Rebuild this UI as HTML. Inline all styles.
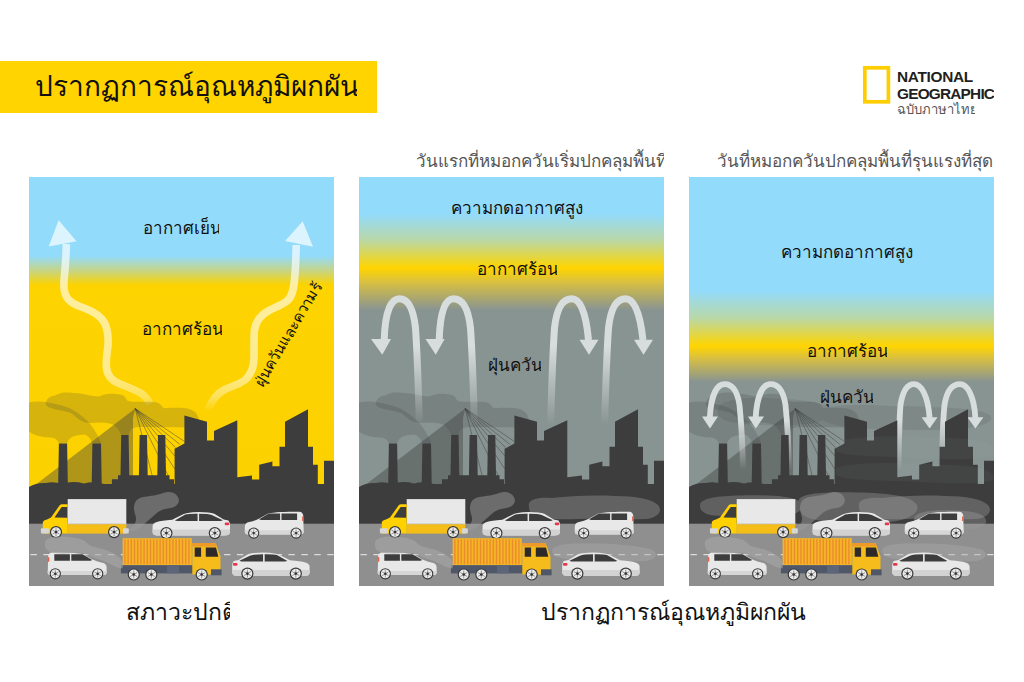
<!DOCTYPE html>
<html><head><meta charset="utf-8">
<style>
html,body{margin:0;padding:0;background:#fff;}
body{width:1024px;height:682px;position:relative;overflow:hidden;font-family:"Liberation Sans",sans-serif;}
svg{position:absolute;left:0;top:0;}
.t{position:absolute;white-space:nowrap;line-height:1;overflow:hidden;}
</style></head><body>
<svg width="1024" height="682" viewBox="0 0 1024 682">
<defs>
<linearGradient id="g1" x1="0" y1="177" x2="0" y2="586" gradientUnits="userSpaceOnUse"><stop offset="0.0000" stop-color="#93dbfb"/><stop offset="0.1932" stop-color="#93dbfb"/><stop offset="0.2274" stop-color="#c4d58a"/><stop offset="0.2641" stop-color="#fdd300"/><stop offset="1.0000" stop-color="#fcd000"/></linearGradient>
<linearGradient id="g2" x1="0" y1="177" x2="0" y2="586" gradientUnits="userSpaceOnUse"><stop offset="0.0000" stop-color="#93dbfb"/><stop offset="0.0905" stop-color="#93dbfb"/><stop offset="0.1540" stop-color="#b9d8a8"/><stop offset="0.2225" stop-color="#ffd500"/><stop offset="0.2567" stop-color="#d9c040"/><stop offset="0.3252" stop-color="#889492"/><stop offset="1.0000" stop-color="#889492"/></linearGradient>
<linearGradient id="g3" x1="0" y1="177" x2="0" y2="586" gradientUnits="userSpaceOnUse"><stop offset="0.0000" stop-color="#93dbfb"/><stop offset="0.2787" stop-color="#93dbfb"/><stop offset="0.3447" stop-color="#b9d8a8"/><stop offset="0.4132" stop-color="#ffd500"/><stop offset="0.4425" stop-color="#d9c040"/><stop offset="0.5012" stop-color="#889492"/><stop offset="1.0000" stop-color="#889492"/></linearGradient>
<clipPath id="c1"><rect x="29" y="177" width="305" height="409"/></clipPath>
<clipPath id="c2"><rect x="359" y="177" width="305" height="409"/></clipPath>
<clipPath id="c3"><rect x="689" y="177" width="305" height="409"/></clipPath>
<g id="wh"><circle r="6.1" fill="#383838"/><circle r="4.9" fill="#ececec"/>
<path d="M0,-4 V4 M-3.5,-2 L3.5,2 M-3.5,2 L3.5,-2" stroke="#7a7a7a" stroke-width="0.8"/><circle r="1.3" fill="#333"/></g>
<g id="sedan">
<path d="M0.3,14 C0.4,10.5 5,9 20,7.8 C25,5 30,2.3 34,1.2 Q40,0 47,0 Q57,0 62,1.8 L71.4,7.6 L76.2,8.6 L77.7,11.5 L77.7,20 Q77.5,23.5 72,23.5 L4,23.5 Q0.3,23 0.3,20 Z" fill="#e8e8e8"/>
<path d="M0.3,17.5 L77.7,17.5 L77.7,20 Q77.5,23.5 72,23.5 L4,23.5 Q0.3,23 0.3,20 Z" fill="#d2d2d2"/>
<path d="M22.5,8.4 L33,2.4 Q36,1.7 45.4,1.8 L45.4,9 L25,9 Z M46.8,1.8 Q56,1.8 60,3.2 L70.5,8.3 L68.5,9 L46.8,9 Z" fill="#3d3d3d"/>
<path d="M46,1.8 V9" stroke="#e8e8e8" stroke-width="0.9"/>
<rect x="72.4" y="10.6" width="4.6" height="2.6" rx="1.2" fill="#e3394a"/>
<use href="#wh" x="14.1" y="21.1"/><use href="#wh" x="62.5" y="21.1"/>
</g>
<g id="hatch">
<path d="M0.3,14.5 C0.4,11.8 2,10.6 4.6,10.1 C8,9.4 11,8.4 13.8,7.1 L23.8,1.5 C30,0 40,-0.3 55,-0.3 C57,0 58.2,1 58.7,3 L59.2,20 Q59,22.4 56,22.4 L3,22.4 Q0.3,22.2 0.3,20 Z" fill="#e8e8e8"/>
<path d="M0.3,18.2 L59.2,18.2 L59.2,20 Q59,22.4 56,22.4 L3,22.4 Q0.3,22.2 0.3,20 Z" fill="#d6d6d6"/>
<path d="M37,1.6 H52.6 V8 H37 Z M35.6,1.6 L24.4,1.6 L14.6,7.3 L16.5,8 L35.6,8 Z" fill="#3d3d3d"/>
<rect x="57.6" y="4.5" width="1.4" height="4.5" fill="#e0604a"/>
<use href="#wh" transform="translate(9.2,21.1) scale(0.92)"/><use href="#wh" transform="translate(51.6,21.1) scale(0.92)"/>
</g>
<g id="truck"><g transform="translate(35,495)">
<rect x="32.7" y="4.1" width="58.6" height="25.2" fill="#e8e8e8"/>
<rect x="32.7" y="28.3" width="58.6" height="1.2" fill="#cfcfcf"/>
<rect x="32.7" y="29.3" width="58.6" height="9.3" fill="#f5bd18"/>
<path d="M7.8,30 L7.8,27.5 Q8,25.5 12,24.5 L16,22.6 L24.5,10.5 Q25.5,9.3 27,9.3 L32.7,9.3 L32.7,38.6 L7.8,38.6 Z" fill="#ffd100"/>
<path d="M19.5,22.5 L26.6,12 L32.2,12 L32.2,22.8 Z" fill="#3d3d3d"/>
<rect x="5.9" y="33.2" width="8" height="5.4" rx="1" fill="#d6d6d6"/>
<rect x="87.9" y="33.2" width="5.9" height="5.4" rx="1" fill="#d6d6d6"/>
<use href="#wh" x="21" y="37.1"/><use href="#wh" x="79.1" y="37.1"/>
</g></g>
<g id="ctruck"><g transform="translate(115,530)">
<rect x="7.6" y="8.2" width="69.2" height="27" fill="#f6b526"/>
<path d="M9.9,9.3 V34.2 M13.1,9.3 V34.2 M16.3,9.3 V34.2 M19.5,9.3 V34.2 M22.7,9.3 V34.2 M25.9,9.3 V34.2 M29.1,9.3 V34.2 M32.3,9.3 V34.2 M35.5,9.3 V34.2 M38.7,9.3 V34.2 M41.9,9.3 V34.2 M45.1,9.3 V34.2 M48.3,9.3 V34.2 M51.5,9.3 V34.2 M54.7,9.3 V34.2 M57.9,9.3 V34.2 M61.1,9.3 V34.2 M64.3,9.3 V34.2 M67.5,9.3 V34.2 M70.7,9.3 V34.2 M73.9,9.3 V34.2" stroke="#ea8c2e" stroke-width="1.4"/>
<rect x="5.9" y="35.2" width="90" height="8.2" fill="#4f5769"/>
<rect x="52" y="35.2" width="12" height="8.2" fill="#5d6678"/>
<path d="M77.3,16.4 L77.3,13.1 L100.6,13.1 L105.5,26.5 L105.5,44.5 L77.3,44.5 Z" fill="#f5bc1b"/>
<path d="M77.3,13.1 L100.6,13.1 L101.8,16.4 L77.3,16.4 Z" fill="#ee9a2a"/>
<path d="M79.7,17.6 H86.1 V26.7 H79.7 Z M90.8,17.6 H101 L103.3,26.7 H90.8 Z" fill="#2e2a2a"/>
<rect x="96" y="39.3" width="10.6" height="6" fill="#4f5769"/>
<use href="#wh" x="18.75" y="44.5"/><use href="#wh" x="36.3" y="44.5"/><use href="#wh" x="86.7" y="44.5"/>
</g></g>
<g id="sceneA">
<g opacity="0.2" fill="#3d3d3d">
<path d="M45.7,404 C46,398 51,396 55.4,395.5 C61,392 67,392.5 72.9,392.9 C80,393 84,394 87,394.7 C92,396 96,396.5 99.3,396.4 C104,394.5 108,393.5 111.6,393.8 C117,394 122,394.5 124,396 C126,398 126.5,400 127.4,400.8 C131,402 134,401.7 138,401.7 L152,401.7 C156,402 159.5,403 161,405 C162,407 163,408 165,408.3 C169,408 176,407.8 183.7,407.9 C189,408 193,410 196,413 C199,417 200,422 197.7,426 C195,428 188,427.5 180,427.3 L140,427 C135,427 132,428 130,431 C129,433 128.6,435 128.6,435 L121.2,435 C120,432 118,428 114,425 C110,423 104,422.5 99,422.5 L90,423 C86,423 83,422 80,420 C77,418 75,416 72,413.5 C68,411.5 62,410.5 56,409.5 C50,408 46,406.5 45.7,404 Z"/>
</g>
<g opacity="0.2" fill="#3d3d3d">
<path d="M29,402.6 C35,401 42,401 48,402.5 C56,404 66,406 73,410 C80,414 86,419 90,424 C94,429 99,436 101,443.6 L92.4,443.6 C91,439 88,435 84,434.5 C80,434.5 75,435.5 72,437 C69,439 67.5,441 67.1,443.6 L58.9,443.6 C58,440 55,437.5 50,437.5 C44,437.5 38,436 33,434 C31,433 29.5,432 29,431 Z"/>
</g>
<path d="M29,489.7 L135.2,408.6 L133,418 L133,486 L29,490 Z" fill="#3d3d3d" opacity="0.4"/>
<path d="M135.2,408.6 L184.5,441.5 M135.2,408.6 L180,444.5 M135.2,408.6 L175.5,447.5 M135.2,408.6 L174.8,456 M135.2,408.6 L174.8,469 M135.2,408.6 L168,475.2 M135.2,408.6 L153,479" stroke="#3d3d3d" stroke-width="0.6" fill="none" opacity="0.8"/>
</g>
<g id="sceneB">
<g fill="#3d3d3d">
<path d="M58.9,443.6 L67.1,443.6 L67.9,490 L58.1,490 Z"/>
<path d="M92.4,443.6 L101,443.6 L101.8,490 L91.6,490 Z"/>
<path d="M121.2,435 L128.6,435 L129.3,476 L120.5,476 Z"/>
<path d="M139.6,435 L147,435 L147.7,476 L138.9,476 Z"/>
<path d="M158,435 L165.3,435 L166,476 L157.3,476 Z"/>
<path d="M118,475.2 L169.5,475.2 L169.5,479.2 L174,479.2 L174,490 L111.9,490 L111.9,479.2 L118,479.2 Z"/>
<path d="M174.6,448.8 L184.4,443.5 L184.4,415.6 L207,421.7 L207,440.5 L214,440.5 L214,431 L237.3,420.2 L237.3,477.2 L252,475.6 L252,479.5 L259.2,479.5 L259.2,464.7 L272.4,461.6 L272.4,466.3 L279.5,466.3 L279.5,446.7 L285,446.7 L285,421.7 L308,409.2 L308,446.7 L313,446.7 L313,464.7 L317.8,464.7 L317.8,488 L324,488 L324,460.8 L334,460.8 L334,525 L174.6,525 Z"/>
<path d="M29,487 Q36,482.5 46,483 Q54,481 62,484 Q72,480.5 84,483.5 Q94,481 104,484 L334,484 L334,525 L29,525 Z"/>
</g>
<rect x="29" y="523.7" width="305" height="62.3" fill="#8f8f8f"/>
<path d="M30.5,554.6 H339" stroke="#dcdcdc" stroke-width="1.3" stroke-dasharray="6.4,6.5"/>
</g>
<g id="exh"><path fill="#9c9c9c" opacity="0.5" d="M128.5,531 C131,528 134,526 135.5,522 C137,518 135,515 134.3,511 C133.5,507 134,502 138,499 C142,496.5 148,496.5 154,495.5 C160,494.5 164,492 169,492 C174,492 178,495 178.8,499.5 C179.5,504 175,507.5 169,508.3 C163,509 159,511 155,514.5 C151,518 147,522 142,526 C138,529 134,532 128.5,531 Z"/></g>
<g id="rsm"><path fill="#a6a6a6" opacity="0.62" d="M44.8,544 C45,540 47,538.7 50,538 C54,536.8 60,536.3 66,536.8 C72,537.2 78,538 83,540 C86,541.5 87.5,544 90,545.5 C94,547.5 100,548 106,550 C112,552.5 118,555.5 121,559 C123,562 123.5,566 122.3,568.6 C119,568 116,567 113,565.5 C109,563.5 106,561.8 101,560 C96,558.5 90,556 84,553.5 C79,552 73,553.5 67,553.6 C61,553.8 55,553.4 50,552 C46.5,550.5 44.8,548 44.8,544 Z"/></g>
<g id="smoke2">
<path fill="#a0a0a0" opacity="0.38" d="M199,507 C197,499 208,497 222,498 C240,496 262,495 285,496 C305,496 322,499 328,505 C333,511 328,518 315,519 C295,520 270,518 248,519 C228,520 210,519 203,515 C200,513 199,510 199,507 Z"/>
<path fill="#a8a8a8" opacity="0.45" d="M222,551 C222,545 236,543 255,543.5 C278,543 305,545 320,549 C329,552 328,559 316,561 C296,562 268,560 245,560 C230,559 222,556 222,551 Z"/>
</g>
<g id="smoke3sky"><g fill="#3d3d3d" opacity="0.12">
<path d="M58,408 C62,399 85,397 110,398 C135,399 158,401 170,408 C176,414 168,422 148,424 C120,426 90,426 70,422 C60,419 56,414 58,408 Z"/>
<path d="M160,412 C165,404 195,404 235,406 C275,407 315,407 330,415 C336,424 315,430 270,430 C225,430 180,429 166,422 C161,419 159,415 160,412 Z"/>
</g></g>
<g id="smoke3">
<g fill="#9c9c9c" opacity="0.38">
<path d="M40,506 C39,498 58,496 80,495.5 C102,495 128,495 139,501 C146,507 141,515 122,516 C98,517 68,517 50,515 C43,513 40,510 40,506 Z"/>
<path d="M139,500 C140,493 168,491.5 198,492.5 C228,493 252,496 257,505 C261,515 242,523 214,523 C184,524 152,522 143,515 C139,510 138,505 139,500 Z"/>
<path d="M254,519 C255,511 274,509.5 296,510.5 C316,511 327,515 326,522 C325,529 305,530 284,529 C264,529 254,526 254,519 Z"/>
</g>
<g fill="#b8c2c2" opacity="0.05">
<path d="M176,442 C200,434 250,436 290,438 C320,439 334,444 334,452 C334,460 300,460 260,458 C220,456 185,457 176,451 Z"/>
<path d="M176,468 C200,461 250,463 290,465 C320,466 334,471 334,478 C334,484 300,484 260,482 C220,480 185,481 176,475 Z"/>
</g>
</g>
<linearGradient id="ag1" x1="0" y1="220" x2="0" y2="412" gradientUnits="userSpaceOnUse">
<stop offset="0" stop-color="#fff" stop-opacity="0.7"/><stop offset="0.5" stop-color="#fff" stop-opacity="0.6"/>
<stop offset="0.8" stop-color="#fff" stop-opacity="0.55"/><stop offset="0.92" stop-color="#fff" stop-opacity="0.35"/><stop offset="1" stop-color="#fff" stop-opacity="0"/></linearGradient>
<linearGradient id="ag2" x1="0" y1="290" x2="0" y2="425" gradientUnits="userSpaceOnUse">
<stop offset="0" stop-color="#d7dcdc"/><stop offset="0.42" stop-color="#d7dcdc"/><stop offset="1" stop-color="#d7dcdc" stop-opacity="0"/></linearGradient>
<linearGradient id="ag3" x1="0" y1="380" x2="0" y2="470" gradientUnits="userSpaceOnUse">
<stop offset="0" stop-color="#d7dcdc"/><stop offset="0.45" stop-color="#d7dcdc"/><stop offset="1" stop-color="#d7dcdc" stop-opacity="0"/></linearGradient>
</defs>
<rect x="0" y="61" width="377" height="52" fill="#ffd400"/>
<rect x="864.8" y="67.8" width="23.6" height="34" fill="none" stroke="#ffce00" stroke-width="3.7"/>
<g clip-path="url(#c1)">
<rect x="29" y="177" width="305" height="409" fill="url(#g1)"/>
<g fill="none" stroke="url(#ag1)" stroke-width="7.6">
<path d="M66.4,244 C66,256 65.5,265 64.5,275 C63.5,285 63,293 68,299 C72,304 78,306 84,308 C92,311 100,315 104,322 C108,329 108.5,336 108,345 C107.5,352 105.5,360 106.5,368 C107.5,376 112,381 120,384 C128,387 136,390 142,394 C146,397 148,400 150,404"/>
<path d="M296.2,245 C296,256 295.5,270 294.5,280 C293.5,290 292,297 287,301 C282,305 276,307 270,310 C262,314 256,320 254.5,330 C253.5,340 254.3,350 254,358 C253.7,366 251,375 245,380 C238,385 230,387 224,390 C218,393 212,400 208,410"/>
</g>
<path d="M58.6,220.2 L48.7,246.6 L76.6,241.3 Z" fill="#fff" fill-opacity="0.68"/>
<path d="M302.7,221.2 L285.1,241 L313,246.7 Z" fill="#fff" fill-opacity="0.68"/>
<use href="#sceneA"/>
<use href="#sceneB"/>
<use href="#exh"/>
<use href="#truck" x="0"/>
<use href="#sedan" transform="translate(152.3,512)"/>
<use href="#hatch" transform="translate(244.5,512)"/>
<use href="#hatch" transform="translate(106.9,552.7) scale(-1,1)"/>
<use href="#ctruck" x="0"/>
<use href="#sedan" transform="translate(309.9,552.5) scale(-1,1)"/>
<use href="#rsm"/>
</g>
<g clip-path="url(#c2)">
<rect x="359" y="177" width="305" height="409" fill="url(#g2)"/>
<use href="#sceneA" x="330"/>
<use href="#sceneB" x="330"/>
<use href="#exh" x="336"/>
<use href="#smoke2" x="330"/>
<use href="#truck" x="339"/>
<use href="#sedan" transform="translate(482.3,512)"/>
<use href="#hatch" transform="translate(574.5,512)"/>
<use href="#hatch" transform="translate(436.9,552.7) scale(-1,1)"/>
<use href="#ctruck" x="330"/>
<use href="#sedan" transform="translate(639.9,552.5) scale(-1,1)"/>
<use href="#rsm" x="330"/>
<g fill="none" stroke="url(#ag2)" stroke-width="7">
<path d="M419.5,430 C418.5,390 417,350 415.5,328 C413,305 407,298.7 399.5,298.7 C391,298.7 385,312 384.2,340"/>
<path d="M474.5,430 C473.5,390 472,350 470.5,328 C468,305 461,298.7 453.5,298.7 C445,298.7 440,312 439.2,340"/>
<path d="M550.5,430 C551.5,390 553,350 554.5,328 C557,305 564,298.7 571.8,298.7 C580,298.7 586,312 588.5,340"/>
<path d="M604.5,430 C605.5,390 607,350 608.5,328 C611,305 618,298.7 625.6,298.7 C634,298.7 640,312 643,340"/>
</g>
<g fill="#d7dcdc">
<path d="M371,338.9 L391,338.9 L382.3,354.7 Z"/><path d="M425.5,338.9 L444.6,338.9 L435.8,354.7 Z"/>
<path d="M579.5,339.8 L598.5,339.8 L589,354.7 Z"/><path d="M634,339.8 L653,339.8 L643.5,354.7 Z"/>
</g>
</g>
<g clip-path="url(#c3)">
<rect x="689" y="177" width="305" height="409" fill="url(#g3)"/>
<use href="#smoke3sky" x="660"/>
<use href="#sceneA" x="660"/>
<g fill="none" stroke="url(#ag3)" stroke-width="5.8">
<path d="M743,470 C742.5,440 741,420 739.5,405 C737,389 731,384.2 724.7,384.2 C717,384.2 711,395 709.8,418"/>
<path d="M789,470 C788.5,440 787,420 785.5,405 C783,389 777,384.2 770.6,384.2 C763,384.2 757,395 755.6,418"/>
<path d="M898.5,480 C898.8,440 899.2,420 900.5,405 C903,389 908,384.2 914,384.2 C921,384.2 928,395 929.6,418"/>
<path d="M942,470 C942.3,440 943,420 944.5,405 C947,389 953,384.2 960,384.2 C967,384.2 974,395 975.4,418"/>
</g>
<g fill="#d7dcdc">
<path d="M702,416.5 L718,416.5 L710,428.5 Z"/><path d="M748,416.5 L764,416.5 L755.8,428.5 Z"/>
<path d="M921.6,417.3 L937.6,417.3 L929.6,428.5 Z"/><path d="M967.4,417.3 L983.4,417.3 L975.4,428.5 Z"/>
</g>
<use href="#sceneB" x="660"/>
<use href="#exh" x="666"/>
<use href="#smoke3" x="660"/>
<use href="#smoke2" x="660"/>
<use href="#truck" x="669"/>
<use href="#sedan" transform="translate(812.3,512)"/>
<use href="#hatch" transform="translate(904.5,512)"/>
<use href="#hatch" transform="translate(766.9,552.7) scale(-1,1)"/>
<use href="#ctruck" x="660"/>
<use href="#sedan" transform="translate(969.9,552.5) scale(-1,1)"/>
<use href="#rsm" x="660"/>
</g>
</svg>
<div class="t" style="left:35px;top:65.0px;width:322px;padding:8px 0;font-size:28px;color:#111;">ปรากฏการณ์อุณหภูมิผกผัน</div>
<div class="t" style="left:897px;top:69px;font-size:15.4px;font-weight:bold;color:#231f20;letter-spacing:-0.3px;">NATIONAL</div>
<div class="t" style="left:897px;top:85.8px;font-size:15.4px;font-weight:bold;color:#231f20;letter-spacing:-0.8px;">GEOGRAPHIC</div>
<div class="t" style="left:897px;top:95.3px;width:78px;padding:8px 0;font-size:13px;color:#555;">ฉบับภาษาไทย</div>
<div class="t" style="left:416px;top:145.4px;width:248px;padding:8px 0;font-size:17px;color:#555;">วันแรกที่หมอกควันเริ่มปกคลุมพื้นที่</div>
<div class="t" style="left:716.5px;top:145.3px;width:276px;padding:8px 0;font-size:17px;color:#555;">วันที่หมอกควันปกคลุมพื้นที่รุนแรงที่สุด</div>
<div class="t" style="left:126px;top:592.8px;width:104px;padding:8px 0;font-size:23px;color:#111;">สภาวะปกติ</div>
<div class="t" style="left:541px;top:592.5px;width:268px;padding:8px 0;font-size:23px;color:#111;">ปรากฏการณ์อุณหภูมิผกผัน</div>
<div class="t" style="left:143px;top:212.1px;width:76px;padding:8px 0;font-size:17px;color:#111;">อากาศเย็น</div>
<div class="t" style="left:141.5px;top:313.3px;width:80px;padding:8px 0;font-size:17px;color:#111;">อากาศร้อน</div>
<div class="t" style="left:450.5px;top:191.9px;width:132px;padding:8px 0;font-size:17px;color:#111;">ความกดอากาศสูง</div>
<div class="t" style="left:476.5px;top:252.6px;width:80px;padding:8px 0;font-size:17px;color:#111;">อากาศร้อน</div>
<div class="t" style="left:488px;top:348.7px;width:53px;padding:8px 0;font-size:17px;color:#111;">ฝุ่นควัน</div>
<div class="t" style="left:780.5px;top:235.8px;width:132px;padding:8px 0;font-size:17px;color:#111;">ความกดอากาศสูง</div>
<div class="t" style="left:806.5px;top:335.2px;width:80px;padding:8px 0;font-size:17px;color:#111;">อากาศร้อน</div>
<div class="t" style="left:820px;top:380.9px;width:53px;padding:8px 0;font-size:17px;color:#111;">ฝุ่นควัน</div>
<div class="t" style="left:228.5px;top:318px;width:119px;padding:8px 0;font-size:15px;color:#111;transform:rotate(-59.4deg);transform-origin:59.5px 16px;">ฝุ่นควันและความร้อน</div>
</body></html>
